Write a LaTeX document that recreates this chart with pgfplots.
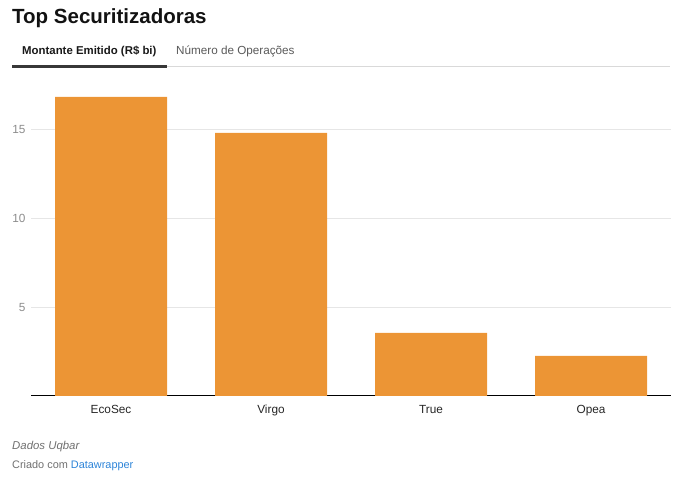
\documentclass[border=0pt]{standalone}
\usepackage{pgfplots}
\pgfplotsset{compat=1.18}
\usepackage{fontspec}
\setmainfont{Liberation Sans}
\definecolor{barorange}{HTML}{EC9535}
\definecolor{gridgray}{HTML}{E6E6E6}
\definecolor{tickgray}{HTML}{8C8C8C}
\definecolor{footgray}{HTML}{707070}
\definecolor{linkblue}{HTML}{2D84D8}
\begin{document}
\begin{tikzpicture}[x=1bp,y=1bp]
\useasboundingbox (0,0) rectangle (680,477);
% header
\node[anchor=base west, inner sep=0, text=black!93] at (12,453)
  {\fontsize{20.5bp}{24bp}\selectfont\bfseries Top Securitizadoras};
\node[anchor=base west, inner sep=0, text=black!90] at (22,422.5)
  {\fontsize{11.4bp}{14bp}\selectfont\bfseries Montante Emitido (R\$ bi)};
\node[anchor=base west, inner sep=0, text=black!65] at (176,422.5)
  {\fontsize{11.7bp}{14bp}\selectfont Número de Operações};
\draw[black!15, line width=1bp] (167,410) -- (670,410);
\draw[black!78, line width=3bp] (12,410.5) -- (167,410.5);
% footer
\node[anchor=base west, inner sep=0, text=footgray] at (12,27)
  {\fontsize{11.4bp}{14bp}\selectfont\itshape Dados Uqbar};
\node[anchor=base west, inner sep=0, text=footgray] at (12,8.5)
  {\fontsize{10.9bp}{13bp}\selectfont Criado com \textcolor{linkblue}{Datawrapper}};
\begin{axis}[
    at={(31bp,81bp)}, anchor=south west,
    scale only axis, width=640bp, height=320.4bp,
    xmin=-0.5, xmax=3.5, ymin=0, ymax=18,
    axis lines*=left,
    y axis line style={draw=none},
    x axis line style={black, line width=1bp},
    xtick=data,
    xticklabels={EcoSec, Virgo, True, Opea},
    ytick={5,10,15},
    major tick length=0pt,
    ymajorgrids,
    grid style={gridgray, line width=0.8bp},
    tick label style={font=\fontsize{11.8bp}{14bp}\selectfont},
    yticklabel style={text=tickgray, xshift=-2bp, yshift=-0.8bp},
    xticklabel style={text=black!85, yshift=-5bp, text height=9bp, text depth=3bp},
    /pgf/number format/assume math mode=true,
    ybar, bar width=112bp,
    clip=false,
]
\addplot[fill=barorange, draw=none] coordinates {
    (0,16.8) (1,14.78) (2,3.55) (3,2.25)
};
\end{axis}
\end{tikzpicture}
\end{document}
